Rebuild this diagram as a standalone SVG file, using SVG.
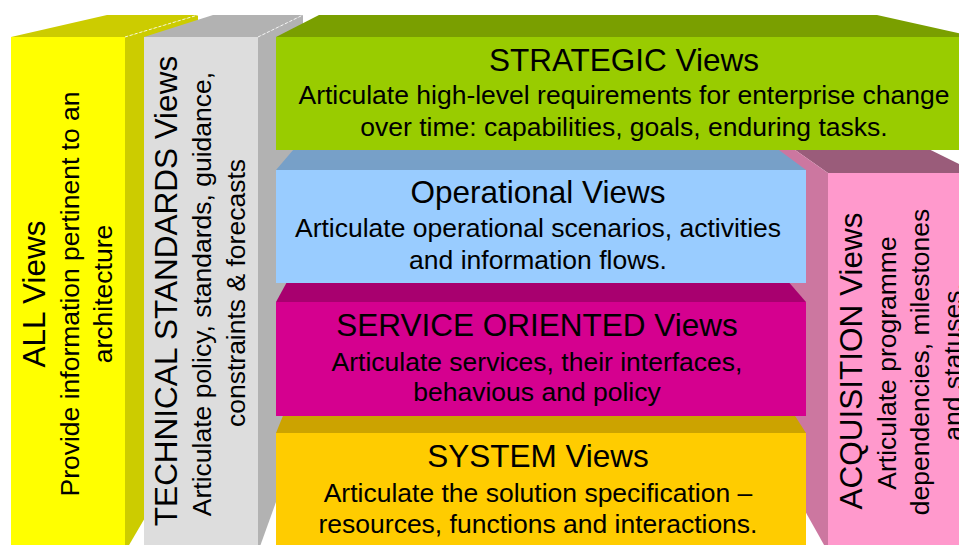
<svg xmlns="http://www.w3.org/2000/svg" width="959" height="545" viewBox="0 0 959 545">
<style>
text{font-family:"Liberation Sans",Arial,sans-serif;fill:#000;text-anchor:middle}
.t{font-size:31.5px}
.b{font-size:26.5px}
.edge{fill:none;stroke:#ffffff;stroke-width:1;stroke-dasharray:3 2;opacity:0.8}
</style>
<rect x="0" y="0" width="959" height="545" fill="#ffffff"/>
<g id="all-views">
<polygon points="11,37 107,15 198,15 125,37" fill="#cccc00"/>
<polygon points="125,37 198,15 198,427 125,552" fill="#cccc00"/>
<rect x="11" y="37" width="114" height="515" fill="#ffff00"/>
<line class="edge" x1="125" y1="37" x2="198" y2="15"/>
<text class="t" transform="translate(45,294) rotate(-90)">ALL Views</text>
<text class="b" transform="translate(79,294) rotate(-90)">Provide information pertinent to an</text>
<text class="b" transform="translate(112,294) rotate(-90)">architecture</text>
</g>
<g id="technical-standards-views">
<polygon points="144,37 213,15 303,15 258,37" fill="#b2b2b2"/>
<polygon points="258,37 303,15 303,427 258,552" fill="#b2b2b2"/>
<rect x="144" y="37" width="114" height="515" fill="#dddddd"/>
<line class="edge" x1="258" y1="37" x2="303" y2="15"/>
<text class="t" transform="translate(177,291) rotate(-90)">TECHNICAL STANDARDS Views</text>
<text class="b" transform="translate(211,294) rotate(-90)">Articulate policy, standards, guidance,</text>
<text class="b" transform="translate(245,293) rotate(-90)">constraints &amp; forecasts</text>
</g>
<g id="acquisition-views">
<polygon points="828,173 758,124 878,124 977,173" fill="#9a5c7a"/>
<polygon points="828,173 758,124 758,427 828,552" fill="#cc77a0"/>
<rect x="828" y="173" width="150" height="380" fill="#ff99cc"/>
<text class="t" transform="translate(862,361) rotate(-90)">ACQUISITION Views</text>
<text class="b" transform="translate(896,363) rotate(-90)">Articulate programme</text>
<text class="b" transform="translate(929,362) rotate(-90)">dependencies, milestones</text>
<text class="b" transform="translate(962,362) rotate(-90)">and statuses.</text>
</g>
<g id="system-views">
<polygon points="276,433 317,332 741,332 806,433" fill="#cca300"/>
<rect x="276" y="433" width="530" height="120" fill="#ffcc00"/>
<text class="t" x="538" y="467">SYSTEM Views</text>
<text class="b" x="538" y="502">Articulate the solution specification –</text>
<text class="b" x="538" y="533">resources, functions and interactions.</text>
</g>
<g id="service-oriented-views">
<polygon points="276,302 317,227 741,227 806,302" fill="#a8006f"/>
<rect x="276" y="302" width="530" height="114" fill="#d5008f"/>
<text class="t" x="537" y="336">SERVICE ORIENTED Views</text>
<text class="b" x="537" y="371">Articulate services, their interfaces,</text>
<text class="b" x="537" y="401">behavious and policy</text>
</g>
<g id="operational-views">
<polygon points="276,170 317,122 741,122 806,170" fill="#77a0c8"/>
<rect x="276" y="170" width="530" height="113" fill="#99ccff"/>
<text class="t" x="538" y="203">Operational Views</text>
<text class="b" x="538" y="237">Articulate operational scenarios, activities</text>
<text class="b" x="538" y="269">and information flows.</text>
</g>
<g id="strategic-views">
<polygon points="276,37 319,15 877,15 976,37" fill="#7a9f00"/>
<rect x="276" y="37" width="700" height="113" fill="#99cc00"/>
<text class="t" x="624" y="71">STRATEGIC Views</text>
<text class="b" x="624" y="104">Articulate high-level requirements for enterprise change</text>
<text class="b" x="624" y="136">over time: capabilities, goals, enduring tasks.</text>
</g>
</svg>
